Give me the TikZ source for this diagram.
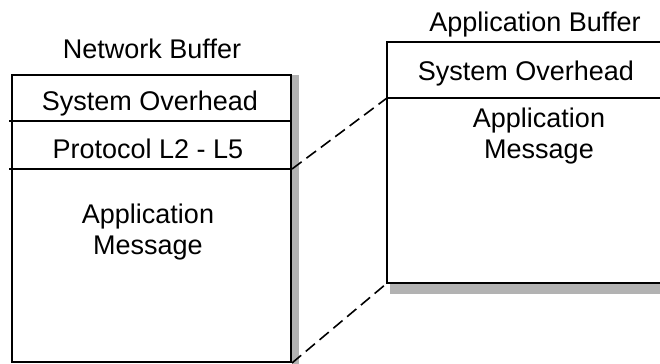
\documentclass[tikz,border=0pt]{standalone}
\usepackage{fontspec}
\setmainfont{Liberation Sans}
\usetikzlibrary{positioning}

\begin{document}
\begin{tikzpicture}[x=0.5pt, y=-0.5pt, thick]
    \tikzstyle{buffer}=[draw, line width=1pt, fill=white, inner sep=0pt]
    \tikzstyle{label}=[anchor=base, inner sep=0pt, font=\fontsize{13.5}{15.5}\selectfont, align=center]
    \tikzstyle{shadow}=[fill=gray!60, draw=none]
    \tikzstyle{link}=[line width=0.8pt, dash pattern=on 6pt off 3pt]

    \useasboundingbox (0,0) rectangle (660,364);

    % shadows
    \fill[shadow] (292,75) rectangle (299,366);
    \fill[shadow] (390,284) rectangle (670,294);

    \node[buffer, minimum width=139.5pt, minimum height=143.5pt] (netbuf) at (151.5,218.5) {};
    \node[buffer, minimum width=141.5pt, minimum height=120.5pt] (appbuf) at (528.5,162.5) {};

    \coordinate (netsepa) at (9,121);
    \coordinate (netsepb) at (9,169);
    \coordinate (appsep) at (387,98);

    \draw[line width=1pt] (netsepa) -- (netbuf.east |- netsepa);
    \draw[line width=1pt] (netsepb) -- (netbuf.east |- netsepb);
    \draw[line width=1pt] (appsep) -- (appbuf.east |- appsep);

    \node[label] (nettitle) at (152,58) {Network Buffer};
    \node[label] (apptitle) at (535,32) {Application Buffer};
    \node[label] (netsys) at (150,110) {System Overhead};
    \node[label] (netproto) at (148,158) {Protocol L2 - L5};
    \node[label] (netmsg) at (148,254) {Application\\Message};
    \node[label] (appsys) at (526,80) {System Overhead};
    \node[label] (appmsg) at (539,158) {Application\\Message};

    \draw[link] (netbuf.east |- netsepb) -- (appsep);
    \draw[link] (netbuf.south east) -- (appbuf.south west);

\end{tikzpicture}
\end{document}
